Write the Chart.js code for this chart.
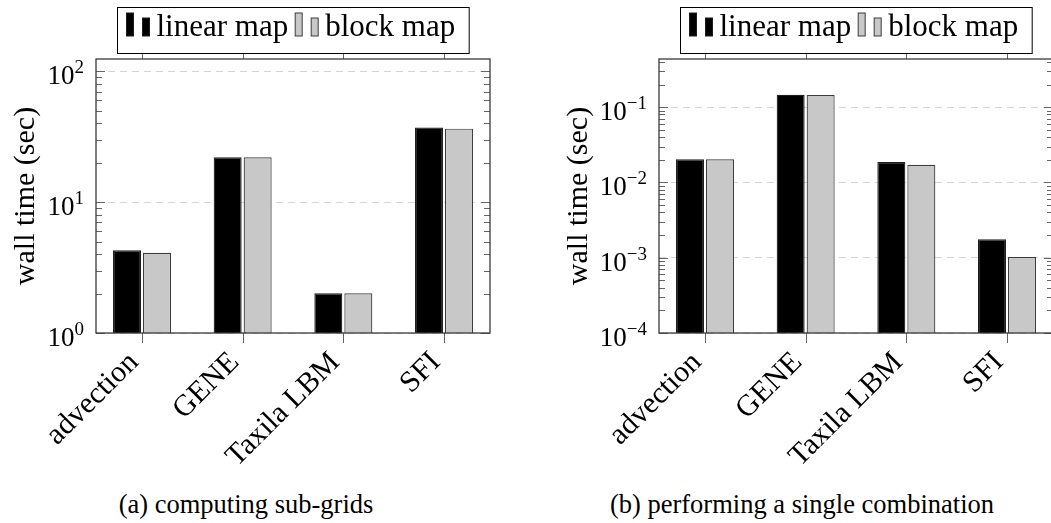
<!DOCTYPE html>
<html>
<head>
<meta charset="utf-8">
<script src="https://cdn.jsdelivr.net/npm/chart.js@4/dist/chart.umd.min.js"></script>
<style>
  body { margin: 0; background: #fff; overflow: hidden; width: 1051px; height: 523px; position: relative; }
  .panel { position: absolute; top: 0; }
  .caption { position: absolute; top: 491px; font: 26.5px "Liberation Serif", serif; line-height: 27px;
             white-space: nowrap; transform: translateX(-50%); color: #000; }
</style>
</head>
<body>
<canvas id="chart-grids" class="panel" style="left:0" width="525" height="470"></canvas>
<canvas id="chart-combine" class="panel" style="left:530px" width="545" height="470"></canvas>
<div class="caption" style="left:246px">(a) computing sub-grids</div>
<div class="caption" style="left:802px">(b) performing a single combination</div>

<script>
const categories = ['advection', 'GENE', 'Taxila LBM', 'SFI'];
const seriesNames = ['linear map', 'block map'];

// wall time (sec) for computing the sub-grids
const gridsLinear = [4.29, 22.0, 2.01, 37.1];
const gridsBlock = [4.10, 22.0, 2.01, 36.4];

// wall time (sec) for one combination step
const combineLinear = [0.0203, 0.146, 0.0187, 0.00176];
const combineBlock = [0.0203, 0.145, 0.0172, 0.00102];

// exponents of the labelled decades
const gridsDecades = [0, 1, 2];
const combineDecades = [-4, -3, -2, -1];

const serif = '"Liberation Serif", serif';
const barFill = ['#000000', '#c8c8c8'];
const barEdge = ['#1e1e1e', '#3c3c3c'];

function line(ctx, x1, y1, x2, y2) {
  ctx.beginPath();
  ctx.moveTo(x1, y1);
  ctx.lineTo(x2, y2);
  ctx.stroke();
}

// frame, tick marks, 10^n labels, y title and the boxed legend on top
const pgfDecor = {
  id: 'pgfDecor',
  afterDraw(chart, args, opts) {
    const ctx = chart.ctx;
    const a = chart.chartArea;
    const x = chart.scales.x, y = chart.scales.y;
    ctx.save();

    // minor / major y ticks, both sides, pointing inwards
    ctx.strokeStyle = '#666';
    ctx.lineWidth = 1;
    const lo = Math.floor(Math.log10(y.min) + 1e-9), hi = Math.ceil(Math.log10(y.max) - 1e-9);
    for (let e = lo; e < hi; e++) {
      for (let m = 1; m < 10; m++) {
        const v = m * Math.pow(10, e);
        if (v < y.min * 0.999 || v > y.max) continue;
        const py = Math.round(y.getPixelForValue(v)) + 0.5;
        const len = m === 1 ? 9 : 6;
        line(ctx, a.left, py, a.left + len, py);
        line(ctx, a.right, py, a.right - len, py);
      }
    }

    // x ticks below and above the frame
    x.ticks.forEach(t => {
      const px = Math.round(x.getPixelForValue(t.value)) + 0.5;
      line(ctx, px, a.bottom, px, a.bottom + 10);
      line(ctx, px, a.top, px, a.top - 10);
    });

    // frame
    ctx.strokeStyle = '#3a3a3a';
    ctx.lineWidth = 1.3;
    ctx.strokeRect(a.left, a.top, a.right - a.left, a.bottom - a.top);

    // decade labels 10^n
    ctx.fillStyle = '#000';
    ctx.textBaseline = 'alphabetic';
    ctx.textAlign = 'left';
    opts.decades.forEach(e => {
      const py = y.getPixelForValue(Math.pow(10, e));
      const exp = e < 0 ? '\u2212' + (-e) : String(e);
      ctx.font = '19px ' + serif;
      const ew = ctx.measureText(exp).width;
      ctx.font = '27px ' + serif;
      const bw = ctx.measureText('10').width;
      const right = a.left - 12;
      ctx.fillText('10', right - ew - bw, py + 13);
      ctx.font = '19px ' + serif;
      ctx.fillText(exp, right - ew, py + 2);
    });

    // y axis title
    ctx.save();
    ctx.translate(opts.titleX, (a.top + a.bottom) / 2);
    ctx.rotate(-Math.PI / 2);
    ctx.font = '30px ' + serif;
    ctx.textAlign = 'center';
    ctx.textBaseline = 'middle';
    ctx.fillText(opts.title, 0, 0);
    ctx.restore();

    // legend box
    ctx.font = '31px ' + serif;
    const sets = chart.data.datasets;
    const iconW = 7 + 9 + 7 + 7;
    const widths = sets.map(ds => ctx.measureText(ds.label).width);
    const padL = 9, padR = 14, gap = 7;
    const total = padL + padR + widths.reduce((s, w) => s + w + iconW, 0) + gap * (sets.length - 1);
    const boxL = Math.round((a.left + a.right) / 2 - total / 2) + 0.5;
    const boxT = 7.5, boxH = 46, base = 36;
    ctx.fillStyle = '#fff';
    ctx.fillRect(boxL, boxT, total, boxH);
    ctx.strokeStyle = '#000';
    ctx.lineWidth = 1;
    ctx.strokeRect(boxL, boxT, total, boxH);
    let cx = boxL + padL;
    sets.forEach((ds, i) => {
      ctx.fillStyle = ds.backgroundColor;
      ctx.strokeStyle = ds.borderColor;
      ctx.fillRect(cx, base - 23, 7, 23);
      ctx.strokeRect(cx, base - 23, 7, 23);
      ctx.fillRect(cx + 16, base - 18, 7, 18);
      ctx.strokeRect(cx + 16, base - 18, 7, 18);
      cx += iconW;
      ctx.fillStyle = '#000';
      ctx.textAlign = 'left';
      ctx.textBaseline = 'alphabetic';
      ctx.fillText(ds.label, cx, base);
      cx += widths[i] + gap;
    });

    ctx.restore();
  }
};

function makeChart(id, linear, block, yMin, yMax, decades, plotLeft, plotRight, titleX) {
  const canvas = document.getElementById(id);
  const values = [linear, block];
  return new Chart(canvas, {
    type: 'bar',
    data: {
      datasets: seriesNames.map((name, i) => ({
        label: name,
        data: values[i].map((v, k) => ({ x: k, y: v })),
        backgroundColor: barFill[i],
        borderColor: barEdge[i],
        borderWidth: 1.2,
        categoryPercentage: 0.596,
        barPercentage: 0.933,
      })),
    },
    options: {
      responsive: false,
      animation: false,
      layout: { padding: { top: 59, left: 0, right: canvas.width - plotRight, bottom: 0 } },
      plugins: {
        legend: { display: false },
        tooltip: { enabled: false },
        pgfDecor: { decades: decades, title: 'wall time (sec)', titleX: titleX },
      },
      scales: {
        x: {
          type: 'linear',
          offset: false,
          min: -0.457,
          max: 3.457,
          grid: { display: false, drawTicks: false, tickLength: 0 },
          border: { display: false },
          afterBuildTicks: (s) => { s.ticks = categories.map((c, k) => ({ value: k })); },
          afterFit: (s) => {
            s.height = 137;
            s.paddingLeft = 0; s.paddingRight = 0; s.paddingTop = 0; s.paddingBottom = 0;
          },
          ticks: {
            autoSkip: false,
            minRotation: 45,
            maxRotation: 45,
            padding: 12,
            labelOffset: -8,
            color: '#000',
            font: { family: serif, size: 30 },
            callback: (v) => categories[v],
          },
        },
        y: {
          type: 'logarithmic',
          min: yMin,
          max: yMax,
          afterBuildTicks: (s) => { s.ticks = decades.map(e => ({ value: Math.pow(10, e) })); },
          afterFit: (s) => { s.width = plotLeft; },
          ticks: { display: false },
          grid: { color: '#d4d4d4', lineWidth: 1, drawTicks: false },
          border: { display: false, dash: [7, 5] },
        },
      },
    },
    plugins: [pgfDecor],
  });
}

makeChart('chart-grids', gridsLinear, gridsBlock, 1, 124, gridsDecades, 96, 490, 26);
makeChart('chart-combine', combineLinear, combineBlock, 1e-4, 0.437, combineDecades, 129, 523, 49);
</script>
</body>
</html>
